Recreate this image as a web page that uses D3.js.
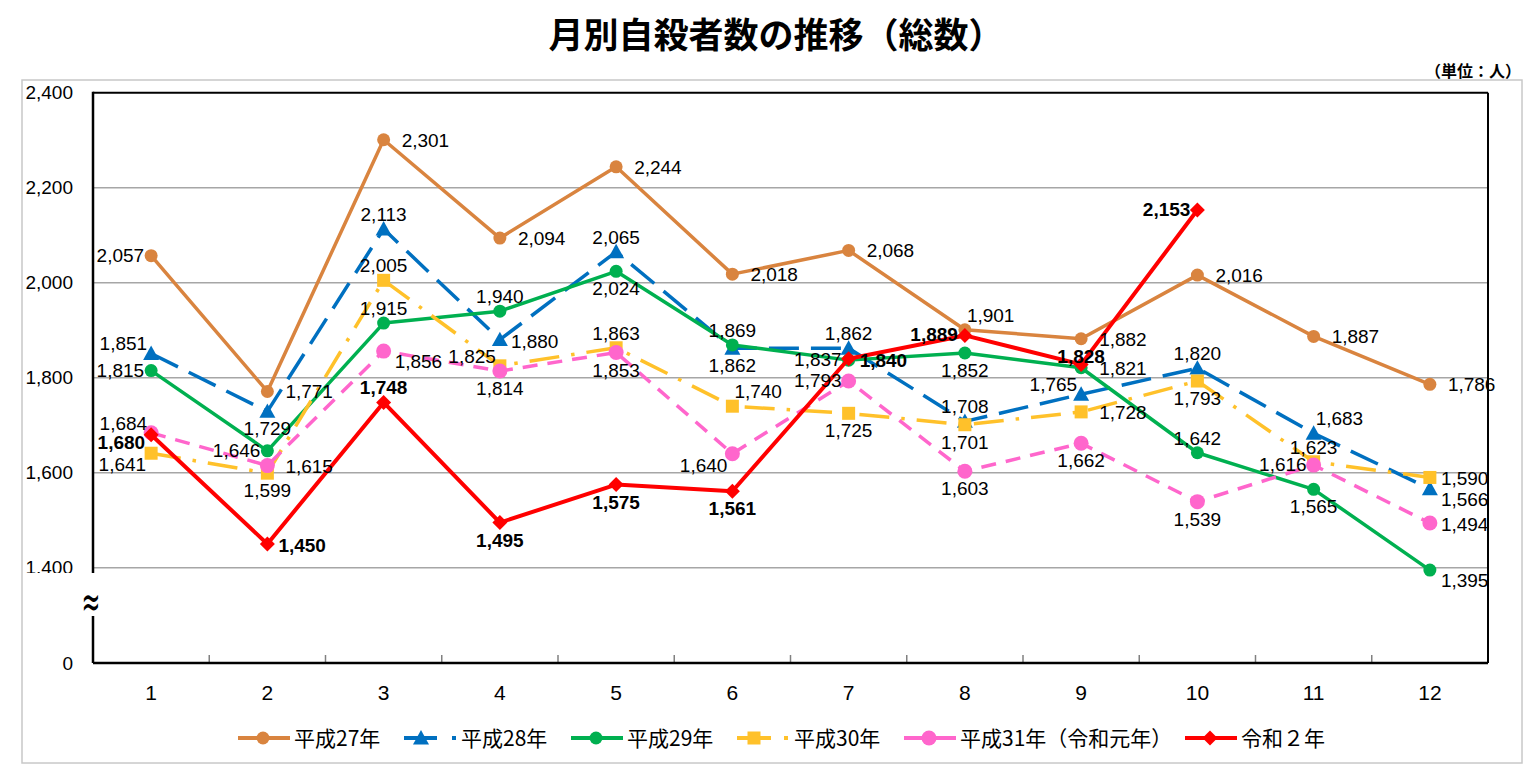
<!DOCTYPE html>
<html lang="ja">
<head>
<meta charset="utf-8">
<script src="https://cdn.jsdelivr.net/npm/d3@7"></script>
<style>
  html, body { margin: 0; padding: 0; background: #fff; }
  svg { display: block; }
</style>
</head>
<body>
<svg id="chart" width="1536" height="770"></svg>
<script>
// ---------------- data ----------------
const months = [1, 2, 3, 4, 5, 6, 7, 8, 9, 10, 11, 12];
const yTicks = [1400, 1600, 1800, 2000, 2200, 2400];
const seriesNames = ["平成27年", "平成28年", "平成29年", "平成30年", "平成31年（令和元年）", "令和２年"];
const h27 = [2057, 1771, 2301, 2094, 2244, 2018, 2068, 1901, 1882, 2016, 1887, 1786];
const h28 = [1851, 1729, 2113, 1880, 2065, 1862, 1862, 1708, 1765, 1820, 1683, 1566];
const h29 = [1815, 1646, 1915, 1940, 2024, 1869, 1837, 1852, 1821, 1642, 1565, 1395];
const h30 = [1641, 1599, 2005, 1825, 1863, 1740, 1725, 1701, 1728, 1793, 1623, 1590];
const h31 = [1684, 1615, 1856, 1814, 1853, 1640, 1793, 1603, 1662, 1539, 1616, 1494];
const r2  = [1680, 1450, 1748, 1495, 1575, 1561, 1840, 1889, 1828, 2153];

// label placement codes (layout only)
const pos27 = ['l','r','r','r','r','r','r','tr','r','r','r','r'];
const pos28 = ['tl','b','t','rn','t','b','t','t','tl','t','tr','br'];
const pos29 = ['l','l','t','t','b','t','l','b','r','t','b','br'];
const pos30 = ['bl','b','t','tl','t','tr','b','b','r','b','t','rn'];
const pos31 = ['tl','r','br','b','b','bl','l','b','b','b','l','rn'];
const posR2 = ['lb','rn','t','b','b','b','rn','l','tc','l'];

// ---------------- styles ----------------
const styles = [
  { color: "#D9843F", dash: null,            legendDash: null,          marker: "circle",   size: 6.5, bold: false },
  { color: "#0070C0", dash: "30,12",         legendDash: "33,15",       marker: "triangle", size: 8,   bold: false },
  { color: "#00B050", dash: null,            legendDash: null,          marker: "circle",   size: 6.5, bold: false },
  { color: "#FFC12A", dash: "30,12,3.5,12",  legendDash: "34,13,4,13",  marker: "square",   size: 6.5, bold: false },
  { color: "#FF66CC", dash: "15,10",         legendDash: null,          marker: "circle",   size: 7.5, bold: false },
  { color: "#FF0000", dash: null,            legendDash: null,          marker: "diamond",  size: 7.5, bold: true  }
];
const seriesValues = [h27, h28, h29, h30, h31, r2];
const seriesPos = [pos27, pos28, pos29, pos30, pos31, posR2];

const series = seriesNames.map((name, i) => ({
  name, style: styles[i],
  points: seriesValues[i].map((v, j) => ({ m: months[j], v, p: seriesPos[i][j] }))
}));

// ---------------- layout ----------------
const svg = d3.select("#chart");
const L = 93, R = 1488, T = 92.7, B1400 = 567.7, Y0 = 663;
const FONT = "'Liberation Sans', Arial, 'Noto Sans CJK JP', sans-serif";
const JFONT = "'Noto Sans CJK JP', 'Liberation Sans', sans-serif";

const x = d3.scaleBand().domain(months).range([L, R]);
const y = d3.scaleLinear().domain([1400, 2400]).range([B1400, T]);
const cx = m => x(m) + x.bandwidth() / 2;

// outer frame
svg.append("rect").attr("x", 22).attr("y", 80).attr("width", 1500).attr("height", 683)
  .attr("fill", "none").attr("stroke", "#C8C8C8").attr("stroke-width", 1.5);

// title
svg.append("text").attr("x", 776).attr("y", 48).attr("text-anchor", "middle")
  .attr("font-family", JFONT).attr("font-weight", "bold").attr("font-size", 35)
  .attr("fill", "#000").text("月別自殺者数の推移（総数）");
svg.append("text").attr("x", 1521).attr("y", 77).attr("text-anchor", "end")
  .attr("font-family", JFONT).attr("font-weight", "bold").attr("font-size", 16)
  .attr("fill", "#000").text("（単位：人）");

// gridlines
svg.append("g").selectAll("line").data(yTicks.filter(t => t < 2400)).join("line")
  .attr("x1", L).attr("x2", R).attr("y1", d => y(d)).attr("y2", d => y(d))
  .attr("stroke", "#A6A6A6").attr("stroke-width", 1.5);

// y axis labels
const yAxis = d3.axisLeft(y).tickValues(yTicks).tickSize(0).tickPadding(20)
  .tickFormat(d3.format(","));
const gy = svg.append("g").attr("transform", `translate(${L},0)`).call(yAxis);
gy.select(".domain").remove();
gy.selectAll("text").attr("font-family", FONT).attr("font-size", 19).attr("fill", "#000");
svg.append("text").attr("x", 73).attr("y", Y0).attr("dy", "0.35em").attr("text-anchor", "end")
  .attr("font-family", FONT).attr("font-size", 19).text("0");

// plot borders
svg.append("line").attr("x1", L).attr("x2", R).attr("y1", T).attr("y2", T)
  .attr("stroke", "#000").attr("stroke-width", 2);
svg.append("line").attr("x1", R).attr("x2", R).attr("y1", T).attr("y2", Y0)
  .attr("stroke", "#000").attr("stroke-width", 2);
svg.append("line").attr("x1", L).attr("x2", L).attr("y1", T - 1).attr("y2", Y0)
  .attr("stroke", "#000").attr("stroke-width", 2.5);

// x axis
const xAxis = d3.axisBottom(x).tickSize(0).tickPadding(22);
const gx = svg.append("g").attr("transform", `translate(0,${Y0})`).call(xAxis);
gx.select(".domain").remove();
gx.selectAll("text").attr("font-family", FONT).attr("font-size", 21).attr("fill", "#000");
svg.append("g").selectAll("line").data(months.slice(1)).join("line")
  .attr("x1", d => x(d)).attr("x2", d => x(d)).attr("y1", Y0).attr("y2", Y0 - 8)
  .attr("stroke", "#808080").attr("stroke-width", 1.5);
svg.append("line").attr("x1", L).attr("x2", R).attr("y1", Y0).attr("y2", Y0)
  .attr("stroke", "#000").attr("stroke-width", 2.5);

// axis break
svg.append("rect").attr("x", 24).attr("y", 573).attr("width", 76).attr("height", 43).attr("fill", "#fff");
svg.append("text").attr("x", 91).attr("y", 601).attr("dy", "0.35em").attr("text-anchor", "middle")
  .attr("font-family", "'DejaVu Sans', sans-serif").attr("font-size", 30)
  .attr("transform", "translate(91,601) scale(0.75,1.5) translate(-91,-601)")
  .text("≈");

// marker drawing
function drawMarker(sel, st) {
  const s = st.size;
  if (st.marker === "circle") {
    sel.append("circle").attr("r", s).attr("fill", st.color);
  } else if (st.marker === "triangle") {
    sel.append("path").attr("d", `M0,${-s} L${s},${s * 0.8} L${-s},${s * 0.8} Z`).attr("fill", st.color);
  } else if (st.marker === "square") {
    sel.append("rect").attr("x", -s).attr("y", -s).attr("width", 2 * s).attr("height", 2 * s).attr("fill", st.color);
  } else if (st.marker === "diamond") {
    sel.append("path").attr("d", `M0,${-s} L${s},0 L0,${s} L${-s},0 Z`).attr("fill", st.color);
  }
}

// lines + markers
const line = d3.line().x(d => cx(d.m)).y(d => y(d.v));
series.forEach(s => {
  const g = svg.append("g");
  g.append("path").attr("d", line(s.points)).attr("fill", "none")
    .attr("stroke", s.style.color).attr("stroke-width", s.style.bold ? 4 : 3.5)
    .attr("stroke-dasharray", s.style.dash).attr("stroke-linejoin", "round");
  s.points.forEach(p => {
    const mg = g.append("g").attr("transform", `translate(${cx(p.m)},${y(p.v)})`);
    drawMarker(mg, s.style);
  });
});

// labels
const place = {
  l:  { a: "end",    dx: -7, dy: 6 },
  lb: { a: "end",    dx: -6, dy: 14 },
  r:  { a: "start",  dx: 18, dy: 7 },
  rn: { a: "start",  dx: 11, dy: 8 },
  t:  { a: "middle", dx: 0,  dy: -8 },
  tc: { a: "middle", dx: 0,  dy: -1 },
  b:  { a: "middle", dx: 0,  dy: 24 },
  tl: { a: "end",    dx: -4, dy: -3 },
  tr: { a: "start",  dx: 2,  dy: -8 },
  bl: { a: "end",    dx: -5, dy: 18 },
  br: { a: "start",  dx: 11, dy: 17 }
};
const fmt = d3.format(",");
series.forEach(s => {
  svg.append("g").selectAll("text").data(s.points).join("text")
    .attr("x", d => cx(d.m) + place[d.p].dx)
    .attr("y", d => y(d.v) + place[d.p].dy)
    .attr("text-anchor", d => place[d.p].a)
    .attr("font-family", FONT).attr("font-size", 19)
    .attr("font-weight", s.style.bold ? "bold" : "normal")
    .attr("fill", "#000")
    .text(d => fmt(d.v));
});

// legend
const legendX = [238, 404, 571, 737, 904, 1185];
const LY = 738;
series.forEach((s, i) => {
  const g = svg.append("g").attr("transform", `translate(${legendX[i]},${LY})`);
  g.append("line").attr("x1", 0).attr("x2", 52).attr("y1", 0).attr("y2", 0)
    .attr("stroke", s.style.color).attr("stroke-width", 4)
    .attr("stroke-dasharray", s.style.legendDash);
  const dashed = !!s.style.legendDash;
  const mg = g.append("g").attr("transform", `translate(${dashed ? 17 : 25},0)`);
  drawMarker(mg, s.style);
  g.append("text").attr("x", dashed ? 57 : 56).attr("y", 0).attr("dy", "0.36em")
    .attr("font-family", JFONT).attr("font-size", 21).attr("fill", "#000")
    .text(s.name);
});
</script>
</body>
</html>
